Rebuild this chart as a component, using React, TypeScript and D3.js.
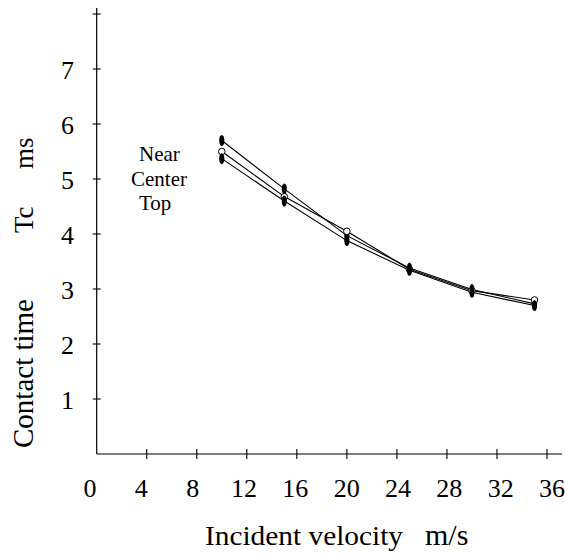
import React from "react";
import * as d3 from "d3";

const velocities = [10, 15, 20, 25, 30, 35];
const nearValues = [5.7, 4.82, 3.97, 3.38, 2.99, 2.73];
const centerValues = [5.5, 4.68, 4.05, 3.36, 2.97, 2.8];
const topValues = [5.37, 4.6, 3.88, 3.34, 2.94, 2.7];
const xTicks = [0, 4, 8, 12, 16, 20, 24, 28, 32, 36];
const yTicks = [1, 2, 3, 4, 5, 6, 7, 8];
const yTickLabels = [1, 2, 3, 4, 5, 6, 7];
const seriesNames = ["Near", "Center", "Top"];

const W = 565;
const H = 553;
const FONT = "'Liberation Serif', 'Times New Roman', serif";

export default function App() {
  const x = d3.scaleLinear().domain([0, 36]).range([96.7, 547]);
  const xLabel = d3.scaleLinear().domain([0, 36]).range([90, 552]);
  const y = d3.scaleLinear().domain([0, 8]).range([454, 14]);

  const series = [
    { name: seriesNames[0], values: nearValues, filled: true },
    { name: seriesNames[1], values: centerValues, filled: false },
    { name: seriesNames[2], values: topValues, filled: true },
  ];

  const line = d3
    .line<[number, number]>()
    .x((d) => x(d[0]))
    .y((d) => y(d[1]));

  const legendPos = [
    { x: 139, y: 161 },
    { x: 131, y: 186 },
    { x: 139, y: 210 },
  ];

  return (
    <div style={{ position: "absolute", left: 0, top: 0 }}>
      <svg width={W} height={H} style={{ display: "block", background: "#fff" }}>
        {/* axes */}
        <line x1={x(0)} x2={x(0)} y1={8} y2={y(0)} stroke="#000" strokeWidth={1.2} />
        <line x1={x(0)} x2={562} y1={y(0)} y2={y(0)} stroke="#000" strokeWidth={1.2} />
        {yTicks.map((t) => (
          <line key={"yt" + t} x1={x(0) - 4} x2={x(0) + 4} y1={y(t)} y2={y(t)} stroke="#000" strokeWidth={1.1} />
        ))}
        {xTicks.filter((t) => t > 0).map((t) => (
          <line key={"xt" + t} x1={x(t)} x2={x(t)} y1={y(0) - 5} y2={y(0) + 5} stroke="#000" strokeWidth={1.1} />
        ))}
        {yTickLabels.map((t) => (
          <text key={"yl" + t} x={74} y={y(t) + 10} textAnchor="end" fontFamily={FONT} fontSize={26} fill="#000">
            {t}
          </text>
        ))}
        {xTicks.map((t) => (
          <text key={"xl" + t} x={xLabel(t)} y={497} textAnchor="middle" fontFamily={FONT} fontSize={26} fill="#000">
            {t}
          </text>
        ))}
        {/* axis titles */}
        <text x={205} y={545} fontFamily={FONT} fontSize={28} textLength={198} lengthAdjust="spacingAndGlyphs" fill="#000">
          Incident velocity
        </text>
        <text x={425} y={545} fontFamily={FONT} fontSize={30} fill="#000">
          m/s
        </text>
        <text transform="translate(33,448) rotate(-90)" fontFamily={FONT} fontSize={29} fill="#000">
          Contact time
        </text>
        <text transform="translate(33,233) rotate(-90)" fontFamily={FONT} fontSize={27} fill="#000">
          Tc
        </text>
        <text transform="translate(33,169) rotate(-90)" fontFamily={FONT} fontSize={27} fill="#000">
          ms
        </text>
        {/* legend labels */}
        {series.map((s, i) => (
          <text key={"lg" + s.name} x={legendPos[i].x} y={legendPos[i].y} fontFamily={FONT} fontSize={21} fill="#000">
            {s.name}
          </text>
        ))}
        {/* lines */}
        {series.map((s) => (
          <path
            key={"ln" + s.name}
            d={line(velocities.map((v, j) => [v, s.values[j]] as [number, number])) || ""}
            fill="none"
            stroke="#000"
            strokeWidth={1.1}
          />
        ))}
        {/* markers */}
        {series.map((s) =>
          velocities.map((v, j) =>
            s.filled ? (
              <ellipse key={s.name + j} cx={x(v)} cy={y(s.values[j])} rx={2.6} ry={5.5} fill="#000" />
            ) : (
              <circle key={s.name + j} cx={x(v)} cy={y(s.values[j])} r={3.3} fill="#fff" stroke="#000" strokeWidth={1} />
            )
          )
        )}
      </svg>
    </div>
  );
}
